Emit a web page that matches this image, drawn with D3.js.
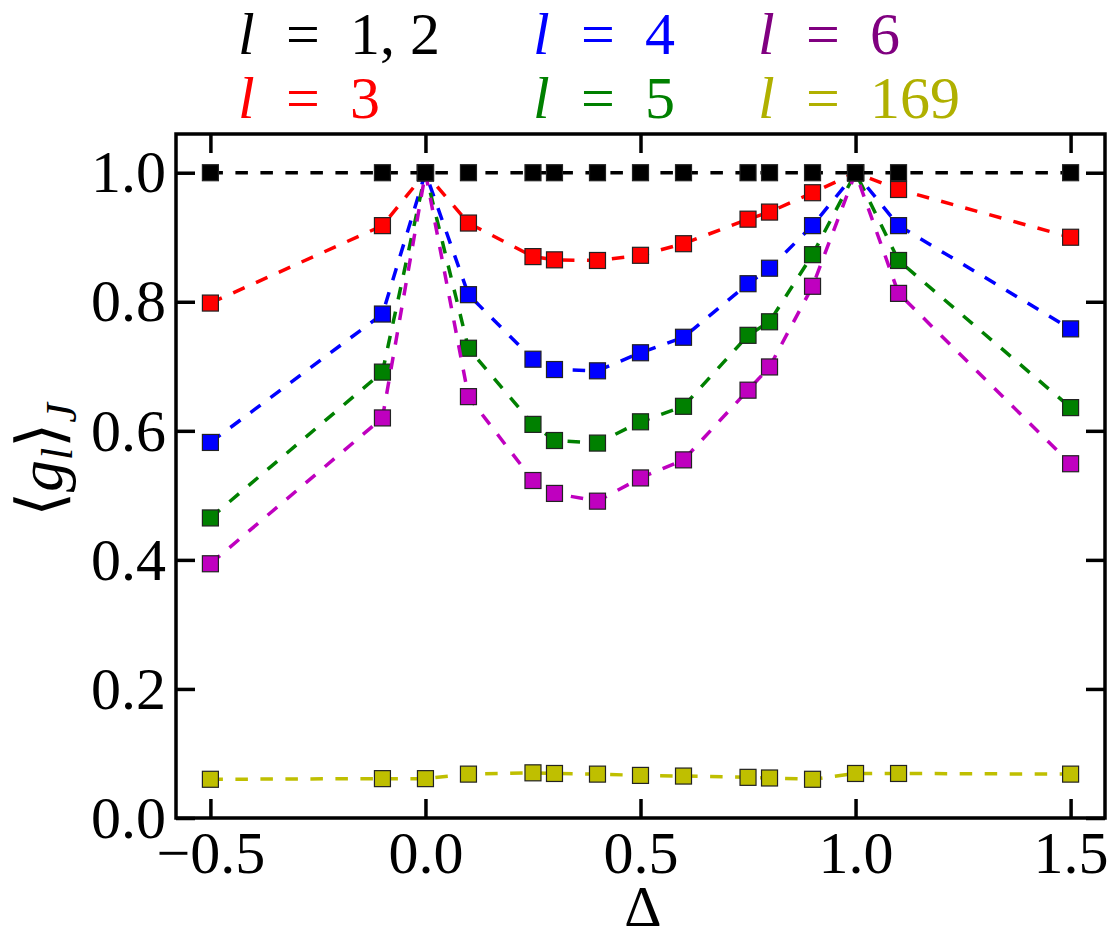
<!DOCTYPE html>
<html>
<head>
<meta charset="utf-8">
<script src="https://cdn.jsdelivr.net/npm/d3@7"></script>
<style>
  body { margin: 0; background: #fff; }
  svg text { font-family: "Liberation Serif", "Times New Roman", Tinos, "DejaVu Serif", "Noto Serif", serif; }
</style>
</head>
<body>
<script>
const w=1111
const h=940

// Delta values on the x axis
const deltas=[-0.5,-0.1,0,0.1,0.25,0.3,0.4,0.5,0.6,0.75,0.8,0.9,1.0,1.1,1.5]

// <g_l>_J for each l
const g12=[1,1,1,1,1,1,1,1,1,1,1,1,1,1,1]
const g3=[0.798,0.918,1.0,0.922,0.870,0.865,0.864,0.872,0.890,0.928,0.939,0.969,1.0,0.974,0.900]
const g4=[0.582,0.781,1.0,0.811,0.711,0.695,0.693,0.721,0.745,0.828,0.852,0.918,1.0,0.918,0.758]
const g5=[0.465,0.691,1.0,0.728,0.610,0.585,0.581,0.614,0.638,0.748,0.769,0.873,1.0,0.864,0.636]
const g6=[0.394,0.620,1.0,0.653,0.523,0.503,0.491,0.527,0.555,0.663,0.699,0.824,1.0,0.813,0.549]
const g169=[0.060,0.061,0.061,0.068,0.070,0.069,0.068,0.066,0.065,0.063,0.062,0.060,0.069,0.069,0.068]

const xTicks=[-0.5,0,0.5,1.0,1.5]
const yTicks=[0,0.2,0.4,0.6,0.8,1.0]

const legendLabels=["1, 2","3","4","5","6","169"]
const legendColors=["#000000","#ff0000","#0000ff","#008000","#800080","#b0b000"]

// drawing order: black goes last so it sits on top
const series=[
  {values:g3,color:"#ff0000"},
  {values:g4,color:"#0000ff"},
  {values:g5,color:"#008000"},
  {values:g6,color:"#bf00bf"},
  {values:g169,color:"#bfbf00"},
  {values:g12,color:"#000000"}
]

const pLeft=176, pRight=1105, pTop=134, pBottom=818

const x=d3.scaleLinear()
    .domain([-0.58,1.58])
    .range([pLeft,pRight])

const y=d3.scaleLinear()
    .domain([0,1.06])
    .range([pBottom,pTop])

const svg=d3.create("svg")
    .attr("width",w)
    .attr("height",h)

const fmt=d3.format(".1f")

//axes, ticks pointing inward on all four sides
svg.append("g")
    .attr("transform",`translate(0,${pBottom})`)
    .call(d3.axisBottom(x).tickValues(xTicks).tickSizeInner(-19).tickSizeOuter(0).tickPadding(12).tickFormat(fmt))
svg.append("g")
    .attr("transform",`translate(${pLeft},0)`)
    .call(d3.axisLeft(y).tickValues(yTicks).tickSizeInner(-19).tickSizeOuter(0).tickPadding(10).tickFormat(fmt))
svg.append("g")
    .attr("transform",`translate(0,${pTop})`)
    .call(d3.axisTop(x).tickValues(xTicks).tickSizeInner(-19).tickSizeOuter(0).tickFormat(""))
svg.append("g")
    .attr("transform",`translate(${pRight},0)`)
    .call(d3.axisRight(y).tickValues(yTicks).tickSizeInner(-19).tickSizeOuter(0).tickFormat(""))

svg.selectAll(".domain").remove()
svg.selectAll(".tick line").attr("stroke","#000").attr("stroke-width",3.5)
svg.selectAll(".tick text")
    .attr("font-family",null)
    .attr("font-size",60)
    .attr("fill","#000")

// lines and markers
const line=d3.line()
    .x((d,i)=>x(deltas[i]))
    .y(d=>y(d))

const sz=16
series.forEach(s=>{
  const g=svg.append("g")
  g.append("path")
    .attr("d",line(s.values))
    .attr("fill","none")
    .attr("stroke",s.color)
    .attr("stroke-width",3.5)
    .attr("stroke-dasharray","12.5,12.5")
  g.selectAll("rect")
    .data(s.values)
    .enter()
    .append("rect")
    .attr("x",(d,i)=>x(deltas[i])-sz/2)
    .attr("y",d=>y(d)-sz/2)
    .attr("width",sz)
    .attr("height",sz)
    .attr("fill",s.color)
    .attr("stroke","#222")
    .attr("stroke-width",1.2)
})

//frame
svg.append("rect")
    .attr("x",pLeft)
    .attr("y",pTop)
    .attr("width",pRight-pLeft)
    .attr("height",pBottom-pTop)
    .attr("fill","none")
    .attr("stroke","#000")
    .attr("stroke-width",3.5)

//legend as coloured text above the plot, one text per entry
const cols=[238,533,758]
const rows=[54,118]
legendLabels.forEach((lab,i)=>{
  const x0=cols[Math.floor(i/2)]
  const yb=rows[i%2]
  const t=svg.append("text").attr("y",yb)
    .attr("font-size",60).attr("fill",legendColors[i])
  t.append("tspan").attr("x",x0).attr("font-style","italic").text("l")
  t.append("tspan").attr("x",x0+48).text("=")
  t.append("tspan").attr("x",x0+112).text(lab)
})

//axis labels
svg.append("text")
    .attr("x",643)
    .attr("y",926)
    .attr("text-anchor","middle")
    .attr("font-size",58)
    .text("Δ")

const yt=svg.append("text")
    .attr("transform","translate(62,460) rotate(-90)")
    .attr("text-anchor","middle")
    .attr("font-size",64)
yt.append("tspan").text("⟨")
yt.append("tspan").attr("font-style","italic").text("g")
yt.append("tspan").attr("font-style","italic").attr("font-size",44).attr("dy",10).text("l")
yt.append("tspan").attr("dy",-10).text("⟩")
yt.append("tspan").attr("font-style","italic").attr("font-size",44).attr("dy",14).text("J")

d3.select("body")
    .append(()=>svg.node())
</script>
</body>
</html>
